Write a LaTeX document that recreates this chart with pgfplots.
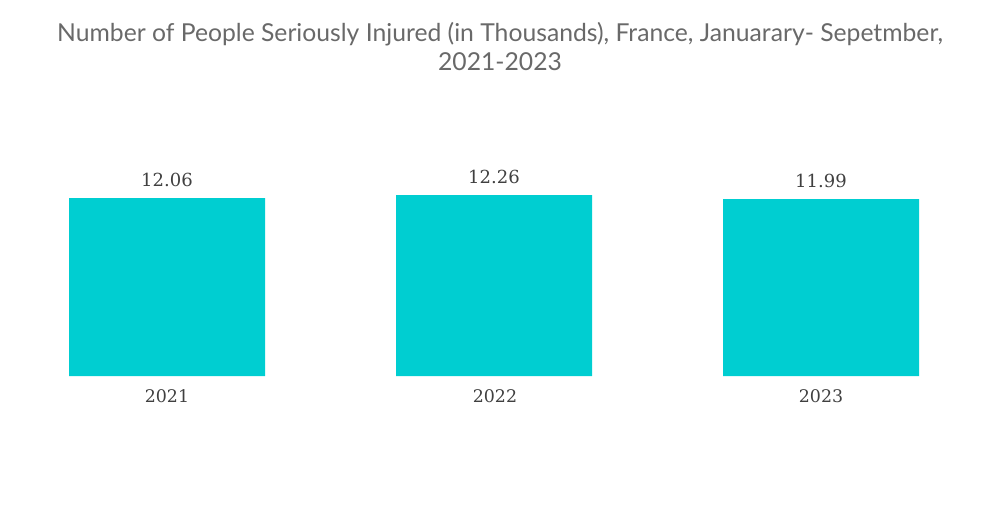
\documentclass[border=0pt]{standalone}
\usepackage{pgfplots}
\pgfplotsset{compat=1.18}
\usepackage{fontspec}
\setmainfont{Lato}
\newfontfamily\labfont{DejaVu Serif}
\definecolor{barc}{RGB}{0,206,209}
\definecolor{titc}{RGB}{105,105,105}
\definecolor{labc}{RGB}{64,64,64}
\begin{document}
\begin{tikzpicture}
\path[use as bounding box] (0,0) rectangle (500pt,252pt);
\node[text=titc, font=\fontsize{12.35pt}{14.5pt}\selectfont, align=center] at (250pt,228.5pt)
 {Number of People Seriously Injured (in Thousands), France, Januarary- Sepetmber,\\2021-2023};
\begin{axis}[
  at={(1.75pt,64pt)}, anchor=south west,
  scale only axis, width=490.5pt, height=103.3pt,
  xmin=-0.5, xmax=2.5, ymin=0, ymax=14,
  axis lines=none,
  xtick=data, xticklabels={2021,2022,2023},
  ytick=\empty,
  clip=false,
  ybar, bar width=98pt,
  nodes near coords,
  every node near coord/.append style={font=\labfont\fontsize{9pt}{11pt}\selectfont, text=labc, yshift=2pt},
  nodes near coords style={/pgf/number format/.cd, fixed, fixed zerofill, precision=2, assume math mode=true},
]
\addplot[fill=barc, draw=none] coordinates {(0,12.06) (1,12.26) (2,11.99)};
\end{axis}
\foreach \x/\l in {83.5pt/2021,247.5pt/2022,410.5pt/2023}
  \node[font=\labfont\fontsize{8.7pt}{11pt}\selectfont, text=labc] at (\x,54pt) {\l};
\end{tikzpicture}
\end{document}
